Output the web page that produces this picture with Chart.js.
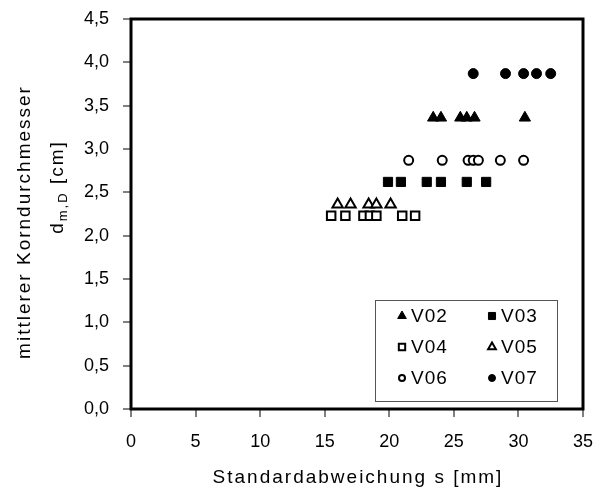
<!DOCTYPE html>
<html>
<head>
<meta charset="utf-8">
<script src="https://cdn.jsdelivr.net/npm/chart.js@4/dist/chart.umd.min.js"></script>
<style>
  body { margin: 0; background: #fff; }
  #wrap { width: 595px; height: 495px; }
</style>
</head>
<body>
<div id="wrap"><canvas id="c" width="595" height="495"></canvas></div>
<script>
// Messwerte: x = Standardabweichung s [mm], y = d_m,D [cm]
const seriesNames = ['V02', 'V03', 'V04', 'V05', 'V06', 'V07'];

const v02X = [23.4, 24.0, 25.5, 26.0, 26.6, 30.5];
const v02Y = [3.36, 3.36, 3.36, 3.36, 3.36, 3.36];

const v03X = [19.9, 20.9, 22.9, 24.0, 26.0, 27.5];
const v03Y = [2.62, 2.62, 2.62, 2.62, 2.62, 2.62];

const v04X = [15.5, 16.6, 18.0, 18.5, 19.0, 21.0, 22.0];
const v04Y = [2.23, 2.23, 2.23, 2.23, 2.23, 2.23, 2.23];

const v05X = [16.0, 17.0, 18.4, 19.0, 20.1];
const v05Y = [2.36, 2.36, 2.36, 2.36, 2.36];

const v06X = [21.5, 24.1, 26.1, 26.5, 26.9, 28.6, 30.4];
const v06Y = [2.87, 2.87, 2.87, 2.87, 2.87, 2.87, 2.87];

const v07X = [26.5, 29.0, 30.4, 31.4, 32.5];
const v07Y = [3.87, 3.87, 3.87, 3.87, 3.87];

const xTicks = [0, 5, 10, 15, 20, 25, 30, 35];
const yTicks = [0, 0.5, 1, 1.5, 2, 2.5, 3, 3.5, 4, 4.5];

const FONT = 'Liberation Sans, Arial, sans-serif';

function pts(xs, ys) {
    return xs.map((x, i) => ({ x: x, y: ys[i] }));
}

// Marker je Serie
const styles = [
    { pointStyle: 'triangle', fill: true,  r: 6.5 },
    { pointStyle: 'rect',     fill: true,  r: 6.5 },
    { pointStyle: 'rect',     fill: false, r: 6 },
    { pointStyle: 'triangle', fill: false, r: 6 },
    { pointStyle: 'circle',   fill: false, r: 4.5 },
    { pointStyle: 'circle',   fill: true,  r: 5 }
];

const allX = [v02X, v03X, v04X, v05X, v06X, v07X];
const allY = [v02Y, v03Y, v04Y, v05Y, v06Y, v07Y];

const datasets = seriesNames.map((name, i) => ({
    label: name,
    data: pts(allX[i], allY[i]),
    pointStyle: styles[i].pointStyle,
    pointRadius: styles[i].r,
    pointHoverRadius: styles[i].r,
    backgroundColor: styles[i].fill ? '#000' : '#fff',
    borderColor: '#000',
    pointBorderWidth: styles[i].fill ? 1 : 2,
    showLine: false
}));

// Rahmen, Achsentitel und Legende
const extras = {
    id: 'extras',
    afterDraw(chart) {
        const ctx = chart.ctx;
        const a = chart.chartArea;
        ctx.save();

        // Rahmen um Plotfläche
        ctx.strokeStyle = '#000';
        ctx.lineWidth = 3;
        ctx.strokeRect(a.left, a.top, a.right - a.left, a.bottom - a.top);

        ctx.fillStyle = '#000';
        ctx.textAlign = 'center';
        ctx.textBaseline = 'middle';
        ctx.letterSpacing = '2px';

        // x-Titel
        ctx.font = '19px ' + FONT;
        ctx.fillText('Standardabweichung s [mm]', (a.left + a.right) / 2 + 1, 478);

        // y-Titel, zweizeilig
        ctx.save();
        ctx.translate(25, 222);
        ctx.rotate(-Math.PI / 2);
        ctx.fillText('mittlerer Korndurchmesser', 0, 0);
        ctx.restore();

        ctx.save();
        ctx.translate(58, 187);
        ctx.rotate(-Math.PI / 2);
        ctx.textAlign = 'left';
        const d = 'd', sub = 'm,D', rest = ' [cm]';
        ctx.font = '19px ' + FONT;
        const wD = ctx.measureText(d).width;
        const wR = ctx.measureText(rest).width;
        ctx.font = '13px ' + FONT;
        const wS = ctx.measureText(sub).width;
        let x0 = -(wD + wS + wR) / 2;
        ctx.font = '19px ' + FONT;
        ctx.fillText(d, x0, 0);
        ctx.font = '13px ' + FONT;
        ctx.fillText(sub, x0 + wD, 5);
        ctx.font = '19px ' + FONT;
        ctx.fillText(rest, x0 + wD + wS, 0);
        ctx.restore();

        // Legende
        const lx = 375, ly = 300, lw = 182, lh = 101;
        ctx.fillStyle = '#fff';
        ctx.fillRect(lx, ly, lw, lh);
        ctx.strokeStyle = '#555';
        ctx.lineWidth = 1;
        ctx.strokeRect(lx + 0.5, ly + 0.5, lw, lh);

        ctx.textAlign = 'left';
        ctx.font = '19px ' + FONT;
        ctx.letterSpacing = '1px';
        chart.data.datasets.forEach((ds, i) => {
            const col = i % 2, row = Math.floor(i / 2);
            const mx = lx + 27 + col * 90;
            const my = ly + 16 + row * 31;
            ctx.fillStyle = ds.backgroundColor;
            ctx.strokeStyle = ds.borderColor;
            ctx.lineWidth = ds.pointBorderWidth;
            Chart.helpers.drawPoint(ctx, {
                pointStyle: ds.pointStyle,
                radius: ds.pointRadius - 1.5,
                borderWidth: ds.pointBorderWidth
            }, mx, my);
            ctx.fillStyle = '#000';
            ctx.fillText(ds.label, mx + 9, my + 1);
        });

        ctx.restore();
    }
};

new Chart(document.getElementById('c'), {
    type: 'scatter',
    data: { datasets: datasets },
    options: {
        responsive: false,
        animation: false,
        events: [],
        layout: { padding: { top: 19, right: 12, left: 0, bottom: 0 } },
        plugins: {
            legend: { display: false },
            tooltip: { enabled: false }
        },
        scales: {
            x: {
                type: 'linear',
                min: 0,
                max: 35,
                afterBuildTicks: s => { s.ticks = xTicks.map(v => ({ value: v })); },
                afterFit: s => { s.height = 86; s.paddingLeft = 0; s.paddingRight = 0; },
                ticks: {
                    color: '#000',
                    font: { family: FONT, size: 18 },
                    padding: 14,
                    maxRotation: 0,
                    callback: v => String(v)
                },
                grid: { drawOnChartArea: false, tickLength: 8, color: '#808080', lineWidth: 2 },
                border: { display: false }
            },
            y: {
                type: 'linear',
                min: 0,
                max: 4.5,
                afterBuildTicks: s => { s.ticks = yTicks.map(v => ({ value: v })); },
                afterFit: s => { s.width = 131; s.paddingTop = 0; s.paddingBottom = 0; },
                ticks: {
                    color: '#000',
                    font: { family: FONT, size: 18 },
                    padding: 14,
                    callback: v => v.toFixed(1).replace('.', ',')
                },
                grid: { drawOnChartArea: false, tickLength: 8, color: '#808080', lineWidth: 2 },
                border: { display: false }
            }
        }
    },
    plugins: [extras]
});
</script>
</body>
</html>
